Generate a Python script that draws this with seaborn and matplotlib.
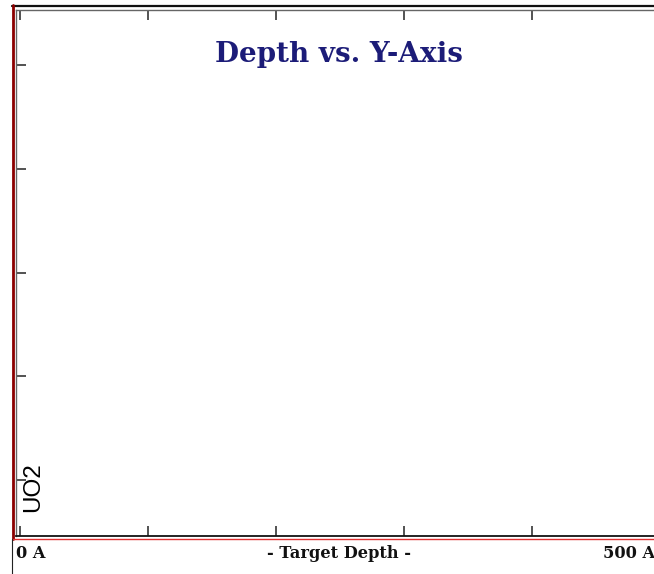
import matplotlib
matplotlib.use("Agg")
import matplotlib.pyplot as plt
from matplotlib.lines import Line2D
import seaborn as sns

# ---- data (axis definition only; the chart has no plotted series) ----
x_ticks = [0, 100, 200, 300, 400, 500]
y_ticks = [1, 2, 3, 4, 5]
title = "Depth vs. Y-Axis"
y_label = "UO2"
x_left_label = "0 A"
x_center_label = "- Target Depth -"
x_right_label = "500 A"

sns.set_style("white")
plt.rcParams['font.family'] = ['DejaVu Serif', 'Liberation Serif']

W, H = 654, 574
fig = plt.figure(figsize=(W / 100, H / 100), dpi=100)

def fx(px):
    return px / W

def fy(py):
    return 1 - py / H

# axes box in pixels
L, R, T, B = 16, 664, 10, 536
ax = fig.add_axes([fx(L), fy(B), fx(R) - fx(L), fy(T) - fy(B)])

# x: 0 -> 20px, 500 -> 660px
scale_x = (660 - 20) / 500
ax.set_xlim(-(20 - L) / scale_x, 500 + (R - 660) / scale_x)
# y: ticks 1..5 at 480..65 px
scale_y = (480 - 65) / 4
ax.set_ylim(1 - (B - 480) / scale_y, 5 + (65 - T) / scale_y)

ax.set_xticks(x_ticks)
ax.set_yticks(y_ticks)
ax.set_xticklabels([])
ax.set_yticklabels([])
ax.tick_params(axis='both', which='both', direction='in', length=7.2, width=1.3,
               color='#444444', top=True, bottom=True, left=True, right=True,
               labelbottom=False, labelleft=False)
for side in ['top', 'left', 'right']:
    ax.spines[side].set_color('#666666')
    ax.spines[side].set_linewidth(1.0)
    ax.spines[side].set_visible(True)
ax.spines['bottom'].set_color('#111111')
ax.spines['bottom'].set_linewidth(1.3)
ax.spines['bottom'].set_visible(True)
ax.set_facecolor('white')

# outer frame
fig.add_artist(Line2D([fx(12), 1], [fy(5.5), fy(5.5)], color='#111111', lw=1.6))
fig.add_artist(Line2D([fx(13), fx(13)], [fy(5), fy(539)], color='#8b0000', lw=2.0))
fig.add_artist(Line2D([fx(13), 1], [fy(539), fy(539)], color='#e03030', lw=1.0))
fig.add_artist(Line2D([fx(12.3), fx(12.3)], [fy(539), 0], color='#222222', lw=0.8))

# title
fig.text(fx(338.5), fy(55), title, ha='center', va='center', fontsize=20,
         fontweight='bold', color='#1c1c78', family=['DejaVu Serif', 'Liberation Serif'])

# y label
fig.text(fx(33), fy(487), y_label, ha='center', va='center', rotation=90,
         fontsize=17.5, color='black', family=['Liberation Sans', 'DejaVu Sans'])

# bottom labels
fig.text(fx(16), fy(554), x_left_label, ha='left', va='center', fontsize=11.7,
         fontweight='bold', color='#111111')
fig.text(fx(339), fy(554), x_center_label, ha='center', va='center', fontsize=11.7,
         fontweight='bold', color='#111111')
fig.text(fx(655), fy(554), x_right_label, ha='right', va='center', fontsize=11.7,
         fontweight='bold', color='#111111')

fig.savefig("out.png", dpi=100, facecolor='white')
